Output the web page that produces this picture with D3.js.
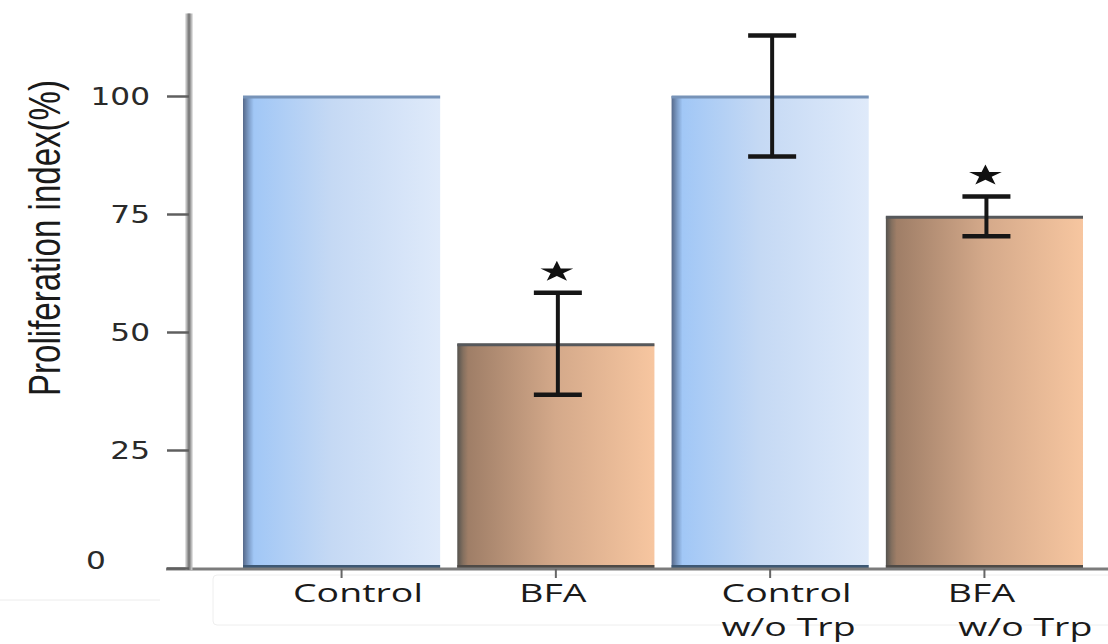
<!DOCTYPE html>
<html>
<head>
<meta charset="utf-8">
<script src="https://cdn.jsdelivr.net/npm/d3@7"></script>
<style>
  html, body { margin: 0; padding: 0; background: #fff; }
  svg { display: block; }
</style>
</head>
<body>
<svg id="chart" width="1108" height="644"></svg>
<script>
// Proliferation index per condition (mean ± error, %)
const categories = ["Control", "BFA", "Control w/o Trp", "BFA w/o Trp"];
const labelLines = [["Control"], ["BFA"], ["Control", "w/o Trp"], ["BFA", "w/o Trp"]];
const treatment = ["control", "bfa", "control", "bfa"];
const means = [100, 47.5, 100, 74.5];
const errors = [0, 10.8, 12.8, 4.2];
const significant = [false, true, false, true];
const yTicks = [0, 25, 50, 75, 100];

const svg = d3.select("#chart");
const W = 1108, H = 644;

const y = d3.scaleLinear().domain([0, 100]).range([568, 96]);
const x = d3.scaleBand().domain(categories).range([243, 1083])
  .paddingInner(0.08).paddingOuter(0);

const axisX = 189;        // vertical axis position
const yTop = y(117.5);    // top end of the vertical axis

// gradients for the two bar families
const defs = svg.append("defs");
const grads = {
  control: [["0%", "#56698a"], ["3%", "#7f9fca"], ["5.5%", "#a1c7f6"], ["45%", "#c5d9f4"], ["100%", "#dfeafa"]],
  bfa: [["0%", "#55534f"], ["3%", "#85705f"], ["5.5%", "#9f7e67"], ["50%", "#d4a98a"], ["100%", "#f7c6a0"]]
};
Object.entries(grads).forEach(([k, stops]) => {
  const g = defs.append("linearGradient").attr("id", "grad-" + k)
    .attr("x1", "0%").attr("x2", "100%").attr("y1", "0%").attr("y2", "0%");
  stops.forEach(([o, c]) => g.append("stop").attr("offset", o).attr("stop-color", c));
});
const topEdge = { control: "#7793b8", bfa: "#56585b" };
const bottomEdge = { control: "#3d5874", bfa: "#4e4a46" };

// faint frame around the category labels
svg.append("rect").attr("x", 213).attr("y", 575).attr("width", 1000).attr("height", 50)
  .attr("rx", 4).attr("fill", "none").attr("stroke", "#eeeeee").attr("stroke-width", 1);
svg.append("line").attr("x1", 0).attr("x2", 160).attr("y1", 600).attr("y2", 600)
  .attr("stroke", "#ececec").attr("stroke-width", 1);

const data = categories.map((c, i) => ({
  c, i, kind: treatment[i], mean: means[i], err: errors[i], sig: significant[i], lines: labelLines[i]
}));

// bars
const bars = svg.append("g").selectAll("g").data(data).join("g");
bars.append("rect")
  .attr("x", d => x(d.c)).attr("width", x.bandwidth())
  .attr("y", d => y(d.mean)).attr("height", d => y(0) - y(d.mean))
  .attr("fill", d => `url(#grad-${d.kind})`);
bars.append("line")
  .attr("x1", d => x(d.c)).attr("x2", d => x(d.c) + x.bandwidth())
  .attr("y1", d => y(d.mean) + 1).attr("y2", d => y(d.mean) + 1)
  .attr("stroke", d => topEdge[d.kind]).attr("stroke-width", 3);
bars.append("line")
  .attr("x1", d => x(d.c)).attr("x2", d => x(d.c) + x.bandwidth())
  .attr("y1", y(0) - 1).attr("y2", y(0) - 1)
  .attr("stroke", d => bottomEdge[d.kind]).attr("stroke-width", 4);

// axes
svg.append("line").attr("x1", 166).attr("x2", W).attr("y1", y(0) + 1).attr("y2", y(0) + 1)
  .attr("stroke", "#7c7c7c").attr("stroke-width", 3);
svg.append("line").attr("x1", axisX).attr("x2", axisX).attr("y1", yTop).attr("y2", y(0) + 2)
  .attr("stroke", "#bdbdbd").attr("stroke-width", 7);
svg.append("line").attr("x1", axisX).attr("x2", axisX).attr("y1", yTop).attr("y2", y(0) + 2)
  .attr("stroke", "#7f7f7f").attr("stroke-width", 3);

const yAxis = svg.append("g").attr("transform", `translate(${axisX},0)`)
  .call(d3.axisLeft(y).tickValues(yTicks).tickSize(22).tickPadding(0).tickFormat(d3.format("d")));
yAxis.select(".domain").remove();
yAxis.selectAll(".tick line").attr("stroke", "#5f5f5f").attr("stroke-width", 2.5);
yAxis.selectAll(".tick text").remove();

// tick labels (the "0" sits a little higher and further left)
yAxis.selectAll(".tick").append("text")
  .attr("text-anchor", d => d === 0 ? "start" : "end")
  .attr("transform", d => d === 0 ? "translate(-103,-8) scale(1.3,1)" : "translate(-39,0) scale(1.3,1)")
  .attr("dy", "0.36em")
  .attr("fill", "#2a2a2a")
  .style("font-family", "'DejaVu Sans', Verdana, sans-serif")
  .style("font-size", "24px")
  .text(d => d);

// category ticks
const xAxis = svg.append("g").attr("transform", `translate(0,${y(0) + 1})`)
  .call(d3.axisBottom(x).tickSize(9).tickFormat(""));
xAxis.select(".domain").remove();
xAxis.selectAll(".tick line").attr("stroke", "#666").attr("stroke-width", 2);

// category labels, one text element per category, lines as tspans
svg.append("g").selectAll("text").data(data).join("text")
  .attr("transform", d => `translate(${x(d.c) + (d.i % 2 === 0 ? 50 : 62)},602) scale(1.5,1)`)
  .attr("fill", "#1a1a1a")
  .style("font-family", "'Open Sans', sans-serif")
  .style("font-size", "25px")
  .each(function (d) {
    const t = d3.select(this);
    d.lines.forEach((ln, j) => {
      t.append("tspan")
        .attr("x", j === 1 && d.i === 3 ? 7 : 0)
        .attr("dy", j === 0 ? 0 : 34.3)
        .text(ln);
    });
  });

// error bars
const eb = svg.append("g").selectAll("g").data(data.filter(d => d.err > 0)).join("g")
  .attr("transform", d => `translate(${x(d.c) + x.bandwidth() / 2 + 2},0)`);
eb.append("line").attr("x1", 0).attr("x2", 0)
  .attr("y1", d => y(d.mean + d.err)).attr("y2", d => y(d.mean - d.err))
  .attr("stroke", "#161616").attr("stroke-width", 4);
eb.selectAll("line.cap").data(d => [d.mean + d.err, d.mean - d.err]).join("line")
  .attr("class", "cap")
  .attr("x1", -24).attr("x2", 24)
  .attr("y1", v => y(v)).attr("y2", v => y(v))
  .attr("stroke", "#161616").attr("stroke-width", 4.5);

// significance markers
svg.append("g").selectAll("path").data(data.filter(d => d.sig)).join("path")
  .attr("d", d3.symbol(d3.symbolStar, 170))
  .attr("transform", d => `translate(${x(d.c) + x.bandwidth() / 2 + 1},${y(d.mean + d.err) - 21}) scale(1.4,0.9)`)
  .attr("fill", "#111");

// y-axis title
svg.append("text")
  .attr("transform", "translate(60,238) scale(1.1,1) rotate(-90)")
  .attr("text-anchor", "middle")
  .attr("fill", "#1a1a1a")
  .attr("textLength", 316).attr("lengthAdjust", "spacingAndGlyphs")
  .style("font-family", "'Liberation Sans Narrow', 'Liberation Sans', Arial, sans-serif")
  .style("font-size", "40px")
  .text("Proliferation index(%)");
</script>
</body>
</html>
